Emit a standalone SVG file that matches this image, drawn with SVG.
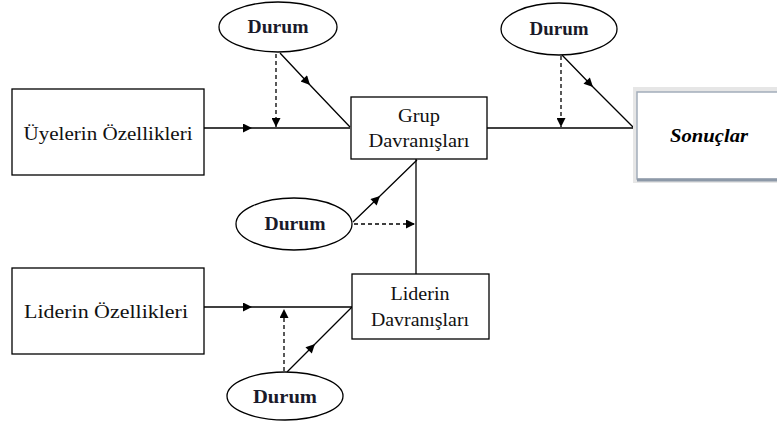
<svg xmlns="http://www.w3.org/2000/svg" width="777" height="428" viewBox="0 0 777 428" font-family="'Liberation Serif', 'DejaVu Serif', serif">
<defs>
<marker id="ah" viewBox="0 0 10 10" refX="10" refY="5" markerWidth="11" markerHeight="9" markerUnits="userSpaceOnUse" orient="auto">
<path d="M0,0 L10,5 L0,10 Z" fill="#000"/>
</marker>
</defs>
<style>
.box{fill:#fff;stroke:#000;stroke-width:1.3}
.ell{fill:#fff;stroke:#000;stroke-width:1.3}
.ln{fill:none;stroke:#000;stroke-width:1.3}
.dash{fill:none;stroke:#000;stroke-width:1.3;stroke-dasharray:4,3}
.t{font-size:19px;fill:#111;text-anchor:middle}
.d{font-size:18px;font-weight:bold;fill:#1a1a2a;text-anchor:middle}
.s{font-size:19px;font-weight:bold;font-style:italic;fill:#000;text-anchor:middle}
</style>
<rect width="777" height="428" fill="#fff"/>
<g id="connectors">
<path class="ln" d="M204 128 L252 128 L350 128" marker-mid="url(#ah)"/>
<path class="dash" d="M276 54 V127" marker-end="url(#ah)"/>
<path class="ln" d="M280 53 L310 85 L350 127" marker-mid="url(#ah)"/>
<path class="ln" d="M487 128 H634"/>
<path class="dash" d="M561 56 V127" marker-end="url(#ah)"/>
<path class="ln" d="M562 55 L593 87 L634 128" marker-mid="url(#ah)"/>
<path class="ln" d="M416 159 V274"/>
<path class="ln" d="M353 222 L380 196 L417 160" marker-mid="url(#ah)"/>
<path class="dash" d="M354 224 H415" marker-end="url(#ah)"/>
<path class="ln" d="M204 307 L252 307 L352 307" marker-mid="url(#ah)"/>
<path class="dash" d="M284 371 V309" marker-end="url(#ah)"/>
<path class="ln" d="M287 372 L315 344 L352 307" marker-mid="url(#ah)"/>
</g>
<g id="uyelerin">
<rect class="box" x="12" y="89" width="192" height="86"/>
<text class="t" font-family="Liberation Serif" x="108" y="140" textLength="169" lengthAdjust="spacingAndGlyphs">Üyelerin Özellikleri</text>
</g>
<g id="liderin-ozellikleri">
<rect class="box" x="12" y="268" width="192" height="86"/>
<text class="t" font-family="Liberation Serif" x="106" y="318" textLength="164" lengthAdjust="spacingAndGlyphs">Liderin Özellikleri</text>
</g>
<g id="grup">
<rect class="box" x="351" y="97" width="136" height="62"/>
<text class="t" font-family="Liberation Serif" x="419" y="122" textLength="42" lengthAdjust="spacingAndGlyphs">Grup</text>
<text class="t" font-family="Liberation Serif" x="419" y="147" textLength="101" lengthAdjust="spacingAndGlyphs">Davranışları</text>
</g>
<g id="liderin-davranislari">
<rect class="box" x="352" y="274" width="137" height="65"/>
<text class="t" font-family="Liberation Serif" x="420" y="300" textLength="59" lengthAdjust="spacingAndGlyphs">Liderin</text>
<text class="t" font-family="Liberation Serif" x="420" y="326" textLength="98" lengthAdjust="spacingAndGlyphs">Davranışları</text>
</g>
<g id="sonuclar">
<rect x="633" y="87" width="150" height="96" fill="#e6e6e6"/>
<rect x="637" y="92" width="146" height="87" fill="#fff" stroke="#a3adba" stroke-width="1.5"/>
<line x1="637" y1="180" x2="777" y2="180" stroke="#8d99a8" stroke-width="3"/>
<text class="s" font-family="Liberation Serif" x="709" y="142" textLength="78" lengthAdjust="spacingAndGlyphs">Sonuçlar</text>
</g>
<g id="durum1">
<ellipse class="ell" cx="278" cy="27" rx="59" ry="25"/>
<text class="d" font-family="Liberation Serif" x="278" y="33" textLength="61" lengthAdjust="spacingAndGlyphs">Durum</text>
</g>
<g id="durum2">
<ellipse class="ell" cx="559" cy="29" rx="58" ry="26"/>
<text class="d" font-family="Liberation Serif" x="559" y="35" textLength="59" lengthAdjust="spacingAndGlyphs">Durum</text>
</g>
<g id="durum3">
<ellipse class="ell" cx="294" cy="224" rx="58" ry="26"/>
<text class="d" font-family="Liberation Serif" x="295" y="230" textLength="61" lengthAdjust="spacingAndGlyphs">Durum</text>
</g>
<g id="durum4">
<ellipse class="ell" cx="285" cy="396" rx="58" ry="24"/>
<text class="d" font-family="Liberation Serif" x="285" y="403" textLength="64" lengthAdjust="spacingAndGlyphs">Durum</text>
</g>
</svg>
